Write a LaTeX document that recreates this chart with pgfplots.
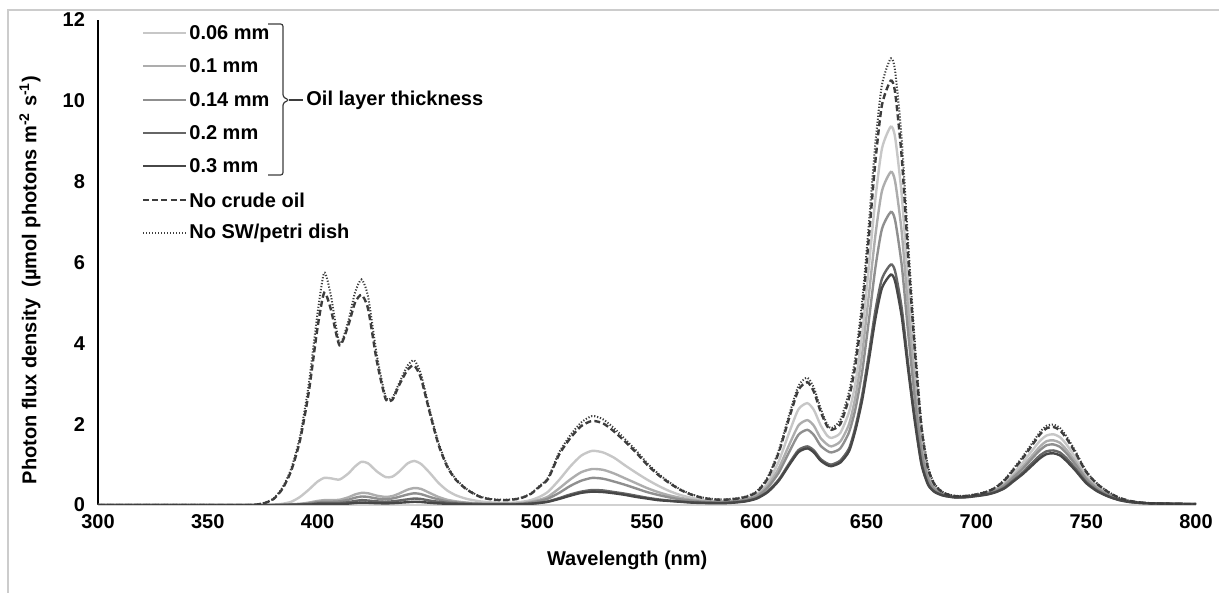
\documentclass[border=0pt]{standalone}
\usepackage{fontspec}
\setmainfont{Liberation Sans}
\usepackage{pgfplots}
\pgfplotsset{compat=1.18}
\usepackage{pgfplotstable}

% Photon flux density spectra (umol photons m-2 s-1) by wavelength (nm)
% a..e: oil layer 0.06, 0.1, 0.14, 0.2, 0.3 mm; n: no crude oil; s: no SW/petri dish
\pgfplotstableread{
wl a b c d e n s
300 0 0 0 0 0 0 0
350 0 0 0 0 0 0 0
368 0 0 0 0 0 0 0
372 0 0 0 0 0 0.01 0.01
376 0 0 0 0 0 0.05 0.06
380 0.01 0 0 0 0 0.15 0.16
384 0.03 0.01 0.01 0 0 0.4 0.43
388 0.08 0.02 0.01 0.01 0 0.85 0.9
392 0.2 0.03 0.02 0.01 0.01 1.6 1.7
396 0.38 0.06 0.04 0.02 0.01 2.8 3.0
400 0.58 0.1 0.07 0.04 0.02 4.4 4.75
403 0.67 0.12 0.08 0.05 0.025 5.25 5.75
406 0.66 0.12 0.08 0.05 0.025 4.85 5.2
410 0.63 0.13 0.09 0.05 0.025 3.95 4.0
414 0.78 0.19 0.13 0.07 0.035 4.45 4.55
417 0.95 0.26 0.18 0.1 0.05 5.0 5.25
420 1.07 0.3 0.21 0.12 0.06 5.2 5.58
423 1.03 0.29 0.2 0.11 0.055 4.85 5.15
427 0.83 0.23 0.16 0.09 0.045 3.55 3.7
431 0.69 0.2 0.14 0.08 0.04 2.62 2.68
434 0.7 0.22 0.16 0.09 0.045 2.6 2.65
437 0.82 0.28 0.2 0.11 0.055 2.95 3.0
441 1.03 0.38 0.26 0.14 0.07 3.35 3.45
444 1.09 0.42 0.29 0.16 0.08 3.45 3.58
447 1.02 0.4 0.27 0.15 0.075 3.15 3.25
451 0.8 0.3 0.2 0.11 0.055 2.3 2.36
455 0.55 0.2 0.14 0.08 0.04 1.5 1.55
459 0.36 0.13 0.09 0.055 0.03 0.95 0.98
463 0.24 0.09 0.065 0.04 0.02 0.62 0.64
468 0.15 0.06 0.045 0.03 0.015 0.38 0.39
474 0.09 0.04 0.03 0.02 0.012 0.2 0.21
480 0.06 0.03 0.025 0.02 0.012 0.13 0.14
486 0.05 0.03 0.025 0.02 0.012 0.12 0.13
492 0.07 0.04 0.03 0.02 0.015 0.16 0.17
497 0.12 0.08 0.06 0.035 0.03 0.27 0.28
501 0.2 0.13 0.1 0.055 0.05 0.45 0.47
505 0.33 0.21 0.16 0.09 0.08 0.65 0.68
510 0.62 0.41 0.3 0.17 0.15 1.25 1.3
515 0.95 0.63 0.47 0.26 0.23 1.65 1.72
520 1.22 0.81 0.6 0.33 0.3 1.95 2.04
525 1.34 0.89 0.67 0.37 0.33 2.08 2.2
530 1.3 0.87 0.65 0.36 0.32 2.02 2.12
535 1.17 0.78 0.58 0.32 0.29 1.82 1.9
540 0.98 0.66 0.5 0.28 0.25 1.57 1.63
545 0.8 0.54 0.41 0.23 0.2 1.3 1.35
550 0.63 0.42 0.32 0.18 0.16 1.0 1.04
555 0.48 0.32 0.25 0.14 0.12 0.75 0.78
560 0.35 0.24 0.19 0.11 0.1 0.55 0.57
565 0.25 0.18 0.14 0.09 0.08 0.38 0.39
570 0.18 0.13 0.11 0.07 0.06 0.26 0.27
575 0.13 0.1 0.08 0.06 0.05 0.18 0.19
580 0.1 0.08 0.07 0.05 0.045 0.14 0.15
585 0.1 0.08 0.07 0.05 0.045 0.13 0.14
590 0.12 0.1 0.09 0.07 0.06 0.15 0.16
595 0.16 0.14 0.13 0.1 0.09 0.2 0.21
600 0.27 0.24 0.21 0.17 0.16 0.32 0.34
605 0.55 0.48 0.43 0.34 0.32 0.66 0.69
610 1.08 0.91 0.8 0.63 0.6 1.3 1.35
615 1.83 1.52 1.34 1.05 1.01 2.2 2.28
619 2.37 1.97 1.74 1.36 1.31 2.85 2.95
623 2.52 2.1 1.86 1.45 1.4 3.04 3.15
626 2.35 1.96 1.73 1.35 1.3 2.8 2.9
629 1.98 1.66 1.47 1.14 1.1 2.32 2.4
632 1.72 1.5 1.34 1.03 0.99 1.95 2.0
634 1.66 1.45 1.3 1.0 0.96 1.86 1.9
638 1.78 1.57 1.4 1.1 1.05 2.0 2.1
642 2.3 2.0 1.8 1.4 1.33 2.65 2.8
645 3.05 2.7 2.4 1.95 1.87 3.5 3.7
648 4.25 3.75 3.3 2.72 2.6 4.8 5.05
651 5.88 5.18 4.55 3.73 3.57 6.6 6.95
654 7.57 6.67 5.87 4.81 4.61 8.5 8.95
657 8.82 7.77 6.83 5.6 5.37 9.9 10.4
661 9.36 8.24 7.25 5.95 5.7 10.5 11.05
663 9.09 8.0 7.04 5.78 5.53 10.2 10.73
666 7.66 6.75 5.93 4.87 4.66 8.6 9.05
669 5.43 4.79 4.21 3.46 3.31 6.1 6.42
672 3.39 2.98 2.62 2.15 2.05 3.8 4.0
675 1.69 1.49 1.31 1.05 1.0 1.9 2.0
678 0.8 0.71 0.63 0.52 0.5 0.9 0.95
681 0.46 0.42 0.38 0.33 0.32 0.5 0.52
685 0.29 0.27 0.26 0.24 0.23 0.3 0.31
690 0.21 0.21 0.2 0.19 0.19 0.22 0.23
695 0.21 0.21 0.2 0.2 0.19 0.22 0.23
700 0.25 0.24 0.24 0.23 0.22 0.26 0.27
705 0.31 0.3 0.29 0.27 0.26 0.33 0.34
709 0.4 0.38 0.36 0.33 0.32 0.44 0.45
713 0.56 0.52 0.49 0.44 0.42 0.62 0.64
717 0.8 0.73 0.69 0.62 0.59 0.88 0.91
721 1.04 0.95 0.89 0.8 0.76 1.15 1.19
725 1.32 1.2 1.13 1.02 0.96 1.45 1.5
729 1.59 1.45 1.36 1.23 1.16 1.75 1.81
732 1.72 1.58 1.48 1.33 1.26 1.9 1.96
735 1.75 1.6 1.5 1.35 1.28 1.93 1.99
738 1.68 1.54 1.44 1.3 1.23 1.85 1.91
741 1.5 1.37 1.28 1.16 1.09 1.65 1.7
745 1.18 1.08 1.01 0.91 0.86 1.3 1.34
750 0.74 0.68 0.64 0.57 0.54 0.82 0.84
755 0.47 0.43 0.4 0.36 0.34 0.52 0.53
760 0.29 0.27 0.25 0.22 0.21 0.32 0.33
765 0.16 0.15 0.14 0.13 0.12 0.18 0.18
770 0.09 0.09 0.08 0.08 0.07 0.1 0.1
775 0.06 0.05 0.05 0.05 0.05 0.06 0.06
780 0.04 0.04 0.04 0.04 0.04 0.04 0.04
790 0.03 0.03 0.03 0.03 0.03 0.03 0.03
800 0.02 0.02 0.02 0.02 0.02 0.02 0.02
}\spectra

\definecolor{tA}{gray}{0.78}
\definecolor{tB}{gray}{0.68}
\definecolor{tC}{gray}{0.56}
\definecolor{tD}{gray}{0.40}
\definecolor{tE}{gray}{0.28}
\definecolor{refline}{gray}{0.24}

\tikzset{
  thkA/.style={draw=tA, line width=1.2pt},
  thkB/.style={draw=tB, line width=1.2pt},
  thkC/.style={draw=tC, line width=1.2pt},
  thkD/.style={draw=tD, line width=1.2pt},
  thkE/.style={draw=tE, line width=1.2pt},
  nooil/.style={draw=refline, line width=1.2pt, dash pattern=on 3pt off 1.6pt},
  nosw/.style={draw=refline, line width=1pt, dash pattern=on 0.6pt off 0.9pt},
  lbl/.style={font=\fontsize{10}{12}\selectfont\bfseries, inner sep=0pt}
}

\begin{document}
\begin{tikzpicture}[x=1pt,y=1pt]
\useasboundingbox (-49,-44) rectangle (560.5,252.5);
\draw[black!20, line width=0.6pt] (-45,-80) -- (-45,247.5) -- (640,247.5);
\begin{axis}[
  at={(0,0)}, anchor=south west,
  scale only axis, width=549pt, height=242.5pt,
  xmin=300, xmax=800, ymin=0, ymax=12,
  xtick={300,350,...,800}, ytick={0,2,...,12},
  axis x line*=bottom, axis y line*=left,
  x axis line style={draw=black!18, line width=1pt, -},
  y axis line style={draw=black, line width=0.9pt, -},
  major tick length=0pt,
  tick label style={font=\fontsize{10}{12}\selectfont\bfseries},
  /pgf/number format/assume math mode=true,
  xticklabel style={yshift=-1pt},
  yticklabel style={xshift=-3pt},
  xlabel={Wavelength (nm)},
  ylabel={Photon flux density\ \ (µmol photons m\textsuperscript{-2} s\textsuperscript{-1})},
  label style={font=\fontsize{10}{12}\selectfont\bfseries},
  xlabel style={at={([yshift=-27.5pt]rel axis cs:0.482,0)}, anchor=center},
  ylabel style={at={([xshift=-34pt]rel axis cs:0,0.464)}, anchor=center},
]
\addplot[thkA, no markers, smooth, tension=0.4] table[x=wl, y=a] {\spectra};
\addplot[thkB, no markers, smooth, tension=0.4] table[x=wl, y=b] {\spectra};
\addplot[thkC, no markers, smooth, tension=0.4] table[x=wl, y=c] {\spectra};
\addplot[thkD, no markers, smooth, tension=0.4] table[x=wl, y=d] {\spectra};
\addplot[thkE, no markers, smooth, tension=0.4] table[x=wl, y=e] {\spectra};
\addplot[nosw, no markers, smooth, tension=0.4] table[x=wl, y=s] {\spectra};
\addplot[nooil, no markers, smooth, tension=0.4] table[x=wl, y=n] {\spectra};
\end{axis}

% legend
\foreach \yy/\sty/\txt in {236/thkA/0.06 mm, 219.5/thkB/0.1 mm, 202.5/thkC/0.14 mm,
    186/thkD/0.2 mm, 169.5/thkE/0.3 mm, 152.5/nooil/No crude oil,
    136/nosw/No SW\slash petri dish}{
  \draw[\sty] (22.5,\yy) -- (44,\yy);
  \node[lbl, anchor=west] at (45.5,\yy) {\txt};
}
% bracket grouping the oil layer thicknesses
\draw[refline, line width=0.6pt, rounded corners=1.2pt]
  (85,240.5) -- (92.5,240.5) -- (92.5,204) -- (95.5,202.5) -- (92.5,201) -- (92.5,165) -- (85,165);
\draw[refline, line width=0.6pt] (95.5,202.5) -- (102.5,202.5);
\node[lbl, anchor=west] at (104,202.5) {Oil layer thickness};
\end{tikzpicture}
\end{document}
